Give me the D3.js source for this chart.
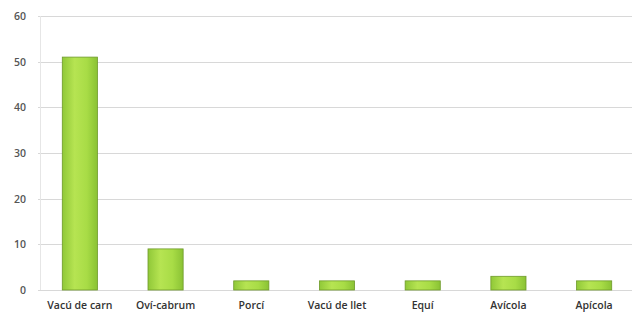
<!DOCTYPE html>
<html><head><meta charset="utf-8">
<script src="https://cdn.jsdelivr.net/npm/d3@7"></script>
<style>body{margin:0;background:#fff;}svg{display:block;}</style>
</head><body>
<svg id="c" width="635" height="314"></svg>
<script>
const categories = ["Vacú de carn","Oví-cabrum","Porcí","Vacú de llet","Equí","Avícola","Apícola"];
const values = [51, 9, 2, 2, 2, 3, 2];
const yTicks = [0, 10, 20, 30, 40, 50, 60];

(function () {
const svg = d3.select("#c");
const pLeft = 37, pRight = 637, pTop = 16, pBottom = 290;
const x = d3.scaleBand().domain(categories).range([pLeft, pRight]).paddingInner(0.59).paddingOuter(0.295);
const y = d3.scaleLinear().domain([0, 60]).range([pBottom, pTop]);

const defs = svg.append("defs");
const g = defs.append("linearGradient").attr("id","bg").attr("x1","0").attr("x2","1").attr("y1","0").attr("y2","0");
g.append("stop").attr("offset","0%").attr("stop-color","#90c838");
g.append("stop").attr("offset","35%").attr("stop-color","#b6e452");
g.append("stop").attr("offset","70%").attr("stop-color","#a8dc46");
g.append("stop").attr("offset","100%").attr("stop-color","#8ac234");

svg.append("g").selectAll("line").data(yTicks).join("line")
  .attr("x1", 38).attr("x2", 632)
  .attr("y1", d => Math.round(y(d)) + 0.5).attr("y2", d => Math.round(y(d)) + 0.5)
  .attr("stroke", "#d8d8d8").attr("stroke-width", 1);

svg.append("line").attr("x1", 40.5).attr("x2", 40.5).attr("y1", y(60)).attr("y2", y(0))
  .attr("stroke", "#e6e6e6");

const ya = d3.axisLeft(y).tickValues(yTicks).tickSize(0).tickPadding(0);
const yg = svg.append("g").attr("transform", "translate(26,0)").call(ya);
yg.select(".domain").remove();
yg.selectAll("text").attr("font-family", "Open Sans, sans-serif").attr("font-size", 10.5)
  .attr("font-weight", "600").attr("fill", "#555");

svg.append("g").selectAll("rect").data(values).join("rect")
  .attr("x", (d, i) => x(categories[i]))
  .attr("width", x.bandwidth())
  .attr("y", d => y(d))
  .attr("height", d => y(0) - y(d))
  .attr("fill", "url(#bg)")
  .attr("stroke", "#6e9a2a").attr("stroke-width", 0.8);

const xa = d3.axisBottom(x).tickSize(0).tickPadding(0);
const xg = svg.append("g").attr("transform", "translate(0,302)").call(xa);
xg.select(".domain").remove();
xg.selectAll("text").attr("font-family", "Open Sans, sans-serif").attr("font-size", 10.5)
  .attr("font-weight", "600").attr("fill", "#333");
})();
</script>
</body></html>
